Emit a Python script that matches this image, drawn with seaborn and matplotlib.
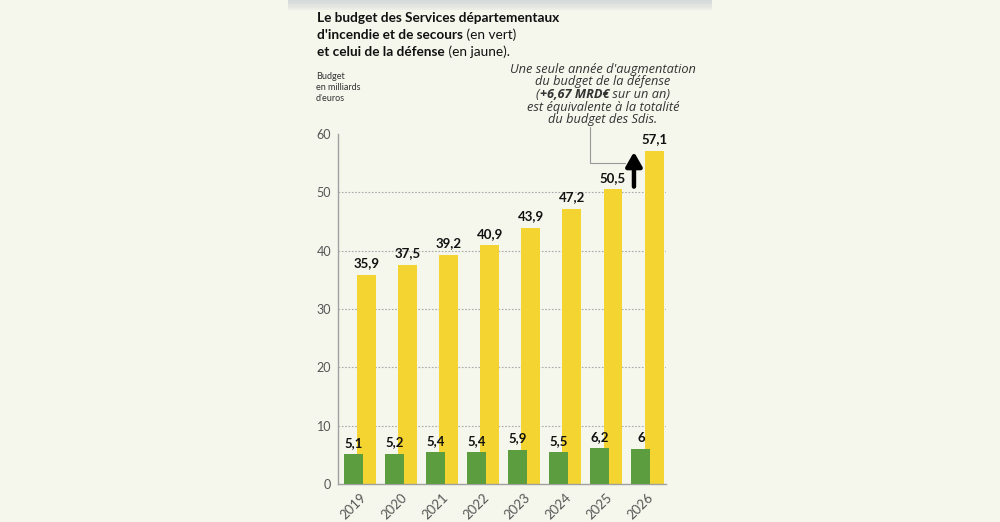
import matplotlib
matplotlib.use("Agg")
import matplotlib.pyplot as plt
import seaborn as sns
import pandas as pd
import numpy as np
from matplotlib.patches import Rectangle

years = ["2019", "2020", "2021", "2022", "2023", "2024", "2025", "2026"]
sdis_budget = [5.1, 5.2, 5.4, 5.4, 5.9, 5.5, 6.2, 6.0]
defense_budget = [35.9, 37.5, 39.2, 40.9, 43.9, 47.2, 50.5, 57.1]
y_ticks = [0, 10, 20, 30, 40, 50, 60]

BG = "#f5f6ec"
GREEN = "#5c9e3f"
YELLOW = "#f3d431"

sns.set_theme(style="white")
plt.rcParams["font.family"] = ["Lato", "DejaVu Sans"]

fig = plt.figure(figsize=(10, 5.22), dpi=100)
fig.patch.set_facecolor(BG)
ax = fig.add_axes([0.338, 0.0728, 0.328, 0.6705])
ax.set_facecolor(BG)

idx = np.arange(len(years))
off = 0.16
w = 0.46
df_y = pd.DataFrame({"pos": idx + off, "val": defense_budget})
df_g = pd.DataFrame({"pos": idx - off, "val": sdis_budget})

sns.barplot(data=df_y, x="pos", y="val", native_scale=True, width=w,
            color=YELLOW, saturation=1, linewidth=0, ax=ax, zorder=2)
sns.barplot(data=df_g, x="pos", y="val", native_scale=True, width=w,
            color=GREEN, saturation=1, linewidth=0, ax=ax, zorder=3)

def fr(v):
    s = f"{v:.1f}".replace(".", ",")
    return s[:-2] if s.endswith(",0") else s

for i in idx:
    ax.text(i + off, defense_budget[i] + 1.0, fr(defense_budget[i]), ha="center",
            va="bottom", fontsize=9.5, fontweight="bold", color="#111111", zorder=4)
    ax.text(i - off, sdis_budget[i] + 0.9, fr(sdis_budget[i]), ha="center",
            va="bottom", fontsize=9.5, fontweight="bold", color="#111111", zorder=4)

ax.set_xlim(-0.535, 7.45)
ax.set_ylim(0, 60)
ax.set_yticks(y_ticks)
ax.set_xticks(idx)
ax.set_xticklabels(years, rotation=45, ha="right", rotation_mode="anchor")
ax.tick_params(axis="y", length=0, labelsize=9, labelcolor="#555555", pad=5)
ax.tick_params(axis="x", length=0, labelsize=9.5, labelcolor="#555555", pad=5)
ax.set_xlabel("")
ax.set_ylabel("")
for g in y_ticks[1:-1]:
    ax.axhline(g, color="#aaaaaa", lw=0.8, ls=(0, (1.5, 1.5)), zorder=1)
for s in ["top", "right"]:
    ax.spines[s].set_visible(False)
for s in ["left", "bottom"]:
    ax.spines[s].set_color("#a0a0a0")
    ax.spines[s].set_linewidth(1.0)

# arrow for the one-year increase
ax.annotate("", xy=(6.67, 57.4), xytext=(6.67, 50.5),
            arrowprops=dict(arrowstyle="-|>,head_width=0.4,head_length=0.7",
                            color="black", lw=3.2), zorder=5)
# connector line from the note
ax.plot([5.6, 5.6, 6.45], [61.2, 55.0, 55.0], color="#999999", lw=0.8,
        clip_on=False, zorder=4)

# shadow band at the top
for k in range(8):
    fig.patches.append(Rectangle((0.288, 1 - (k + 1) * 0.0025), 0.424, 0.0025,
                                 transform=fig.transFigure, color="#d6d9da",
                                 alpha=1 - k * 0.11, lw=0, zorder=0))

fig.canvas.draw()
renderer = fig.canvas.get_renderer()


def rich_line(parts, x, y, ha="left", size=10, color="#111111", style="normal",
              family=None):
    texts = []
    for txt, weight in parts:
        t = fig.text(0, y, txt, fontsize=size, fontweight=weight, fontstyle=style,
                     color=color, va="baseline", ha="left",
                     family=family or plt.rcParams["font.family"])
        texts.append(t)
    widths = [t.get_window_extent(renderer).width / fig.bbox.width for t in texts]
    total = sum(widths)
    start = x - total / 2 if ha == "center" else x
    for t, wd in zip(texts, widths):
        t.set_x(start)
        start += wd
    return texts


# title
rich_line([("Le budget des Services départementaux", "bold")], 0.317, 1 - 22 / 522, size=9.8)
rich_line([("d'incendie et de secours", "bold"), (" (en vert)", "normal")], 0.317,
          1 - 39 / 522, size=9.8)
rich_line([("et celui de la défense", "bold"), (" (en jaune).", "normal")], 0.317,
          1 - 56 / 522, size=9.8)

# y-axis label
fig.text(0.316, 1 - 101 / 522, "Budget\nen milliards\nd'euros", fontsize=6.5,
         color="#333333", va="baseline", linespacing=1.3)

# note
note_c = 0.603
note_kw = dict(ha="center", size=9.2, color="#333333", style="italic",
               family=["Open Sans", "DejaVu Sans"])
rich_line([("Une seule année d'augmentation", "normal")], note_c, 1 - 73 / 522, **note_kw)
rich_line([("du budget de la défense", "normal")], note_c, 1 - 85.5 / 522, **note_kw)
rich_line([("(", "normal"), ("+6,67 MRD€", "bold"), (" sur un an)", "normal")], note_c,
          1 - 98 / 522, **note_kw)
rich_line([("est équivalente à la totalité", "normal")], note_c, 1 - 110.5 / 522, **note_kw)
rich_line([("du budget des Sdis.", "normal")], note_c, 1 - 123 / 522, **note_kw)

fig.savefig("out.png", dpi=100, facecolor=BG)
